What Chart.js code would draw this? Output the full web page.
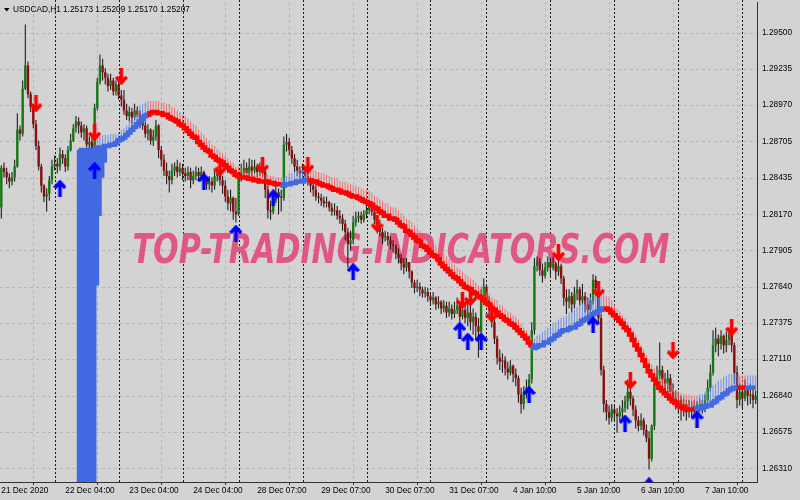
<!DOCTYPE html>
<html>
<head>
<meta charset="utf-8">
<title>USDCAD H1</title>
<script src="https://cdn.jsdelivr.net/npm/chart.js@4.4.1/dist/chart.umd.min.js"></script>
<style>
    html, body { margin: 0; padding: 0; background: #d3d3d3; }
    canvas { display: block; }
</style>
</head>
<body>
<canvas id="chart" width="800" height="500"></canvas>
<script>
// Time axis labels (every 24 bars) and day separators (bar index)
const timeLabels = ['21 Dec 2020', '22 Dec 04:00', '23 Dec 04:00', '24 Dec 04:00', '28 Dec 07:00', '29 Dec 07:00',
    '30 Dec 07:00', '31 Dec 07:00', '4 Jan 10:00', '5 Jan 10:00', '6 Jan 10:00', '7 Jan 10:00'];
const labelBars = [0, 24, 48, 72, 96, 120, 144, 168, 192, 216, 240, 264];
const daySeparators = [20, 44, 68, 89, 113, 137, 161, 182, 206, 230, 254, 278];
const priceTicks = [1.29500, 1.29235, 1.28970, 1.28705, 1.28435, 1.28170, 1.27905, 1.27640, 1.27375, 1.27110, 1.26840, 1.26575, 1.26310];

// OHLC
const opens = [
    1.2822, 1.2851, 1.2848, 1.2844, 1.2841, 1.2844, 1.2852, 1.2879, 1.2876, 1.2909, 1.2926, 1.2905,
    1.2896, 1.2883, 1.2867, 1.2852, 1.2838, 1.2830, 1.2832, 1.2842, 1.2852, 1.2854, 1.2852, 1.2861,
    1.2858, 1.2852, 1.2864, 1.2871, 1.2880, 1.2885, 1.2882, 1.2877, 1.2880, 1.2868, 1.2870, 1.2864,
    1.2895, 1.2914, 1.2926, 1.2921, 1.2917, 1.2911, 1.2915, 1.2907, 1.2912, 1.2904, 1.2901, 1.2893,
    1.2889, 1.2892, 1.2888, 1.2893, 1.2890, 1.2885, 1.2882, 1.2876, 1.2879, 1.2871, 1.2874, 1.2882,
    1.2864, 1.2857, 1.2849, 1.2845, 1.2842, 1.2849, 1.2852, 1.2848, 1.2851, 1.2847, 1.2845, 1.2848,
    1.2842, 1.2845, 1.2848, 1.2845, 1.2848, 1.2842, 1.2839, 1.2841, 1.2838, 1.2845, 1.2847, 1.2842,
    1.2838, 1.2830, 1.2825, 1.2829, 1.2819, 1.2817, 1.2844, 1.2848, 1.2851, 1.2847, 1.2852, 1.2849,
    1.2852, 1.2848, 1.2851, 1.2848, 1.2835, 1.2820, 1.2819, 1.2827, 1.2833, 1.2830, 1.2829, 1.2868,
    1.2870, 1.2864, 1.2858, 1.2852, 1.2849, 1.2847, 1.2849, 1.2845, 1.2842, 1.2838, 1.2835, 1.2830,
    1.2829, 1.2827, 1.2825, 1.2826, 1.2822, 1.2819, 1.2820, 1.2816, 1.2814, 1.2810, 1.2804, 1.2795,
    1.2798, 1.2811, 1.2814, 1.2816, 1.2813, 1.2817, 1.2820, 1.2823, 1.2819, 1.2813, 1.2808, 1.2804,
    1.2800, 1.2801, 1.2798, 1.2795, 1.2794, 1.2788, 1.2785, 1.2781, 1.2778, 1.2782, 1.2775, 1.2767,
    1.2763, 1.2764, 1.2762, 1.2759, 1.2760, 1.2757, 1.2754, 1.2756, 1.2751, 1.2753, 1.2748, 1.2750,
    1.2745, 1.2748, 1.2744, 1.2747, 1.2750, 1.2742, 1.2747, 1.2741, 1.2745, 1.2738, 1.2742, 1.2735,
    1.2731, 1.2757, 1.2764, 1.2754, 1.2747, 1.2738, 1.2726, 1.2712, 1.2709, 1.2710, 1.2704, 1.2701,
    1.2706, 1.2700, 1.2697, 1.2685, 1.2678, 1.2687, 1.2690, 1.2696, 1.2732, 1.2779, 1.2782, 1.2776,
    1.2772, 1.2778, 1.2782, 1.2778, 1.2781, 1.2775, 1.2779, 1.2770, 1.2756, 1.2753, 1.2757, 1.2751,
    1.2759, 1.2762, 1.2754, 1.2757, 1.2751, 1.2747, 1.2754, 1.2769, 1.2763, 1.2741, 1.2703, 1.2678,
    1.2672, 1.2668, 1.2674, 1.2671, 1.2669, 1.2672, 1.2675, 1.2680, 1.2687, 1.2682, 1.2674, 1.2666,
    1.2662, 1.2666, 1.2659, 1.2653, 1.2638, 1.2662, 1.2693, 1.2699, 1.2703, 1.2696, 1.2693, 1.2697,
    1.2687, 1.2682, 1.2678, 1.2681, 1.2674, 1.2678, 1.2672, 1.2675, 1.2674, 1.2677, 1.2674, 1.2678,
    1.2675, 1.2681, 1.2690, 1.2701, 1.2721, 1.2726, 1.2722, 1.2728, 1.2721, 1.2725, 1.2729, 1.2721,
    1.2701, 1.2681, 1.2687, 1.2682, 1.2688, 1.2684, 1.2685, 1.2681
];
const highs = [
    1.2853, 1.2855, 1.2851, 1.2847, 1.2848, 1.2857, 1.2891, 1.2882, 1.2915, 1.2956, 1.2929, 1.2907,
    1.2898, 1.2886, 1.2871, 1.2854, 1.2839, 1.2836, 1.2845, 1.2857, 1.2860, 1.2858, 1.2866, 1.2864,
    1.2861, 1.2867, 1.2876, 1.2883, 1.2889, 1.2888, 1.2885, 1.2883, 1.2882, 1.2874, 1.2873, 1.2898,
    1.2917, 1.2934, 1.2931, 1.2924, 1.2920, 1.2920, 1.2917, 1.2915, 1.2914, 1.2908, 1.2908, 1.2898,
    1.2896, 1.2895, 1.2898, 1.2896, 1.2893, 1.2890, 1.2885, 1.2883, 1.2880, 1.2879, 1.2886, 1.2883,
    1.2867, 1.2861, 1.2855, 1.2849, 1.2854, 1.2855, 1.2857, 1.2855, 1.2854, 1.2851, 1.2852, 1.2851,
    1.2849, 1.2852, 1.2851, 1.2852, 1.2849, 1.2845, 1.2845, 1.2844, 1.2849, 1.2852, 1.2849, 1.2845,
    1.2842, 1.2835, 1.2835, 1.2830, 1.2829, 1.2848, 1.2854, 1.2857, 1.2855, 1.2858, 1.2857, 1.2857,
    1.2854, 1.2855, 1.2855, 1.2851, 1.2838, 1.2827, 1.2832, 1.2838, 1.2836, 1.2835, 1.2874, 1.2876,
    1.2873, 1.2867, 1.2861, 1.2857, 1.2852, 1.2854, 1.2851, 1.2848, 1.2845, 1.2841, 1.2838, 1.2833,
    1.2832, 1.2830, 1.2830, 1.2827, 1.2825, 1.2825, 1.2823, 1.2820, 1.2817, 1.2813, 1.2807, 1.2805,
    1.2816, 1.2819, 1.2819, 1.2819, 1.2820, 1.2825, 1.2826, 1.2825, 1.2822, 1.2816, 1.2813, 1.2807,
    1.2805, 1.2804, 1.2801, 1.2798, 1.2795, 1.2792, 1.2788, 1.2785, 1.2785, 1.2782, 1.2776, 1.2769,
    1.2769, 1.2767, 1.2764, 1.2764, 1.2763, 1.2760, 1.2760, 1.2757, 1.2757, 1.2754, 1.2754, 1.2753,
    1.2753, 1.2751, 1.2753, 1.2756, 1.2753, 1.2754, 1.2750, 1.2754, 1.2750, 1.2748, 1.2745, 1.2741,
    1.2762, 1.2770, 1.2766, 1.2757, 1.2751, 1.2740, 1.2728, 1.2718, 1.2715, 1.2713, 1.2709, 1.2710,
    1.2707, 1.2704, 1.2699, 1.2690, 1.2691, 1.2696, 1.2700, 1.2738, 1.2785, 1.2786, 1.2785, 1.2781,
    1.2782, 1.2786, 1.2785, 1.2786, 1.2782, 1.2785, 1.2781, 1.2772, 1.2762, 1.2762, 1.2760, 1.2764,
    1.2769, 1.2764, 1.2766, 1.2760, 1.2756, 1.2759, 1.2773, 1.2772, 1.2766, 1.2744, 1.2706, 1.2681,
    1.2677, 1.2678, 1.2677, 1.2675, 1.2677, 1.2681, 1.2684, 1.2696, 1.2691, 1.2684, 1.2677, 1.2669,
    1.2671, 1.2668, 1.2663, 1.2658, 1.2663, 1.2696, 1.2706, 1.2723, 1.2706, 1.2701, 1.2703, 1.2700,
    1.2693, 1.2688, 1.2687, 1.2684, 1.2682, 1.2681, 1.2681, 1.2680, 1.2681, 1.2680, 1.2682, 1.2681,
    1.2685, 1.2696, 1.2707, 1.2732, 1.2734, 1.2729, 1.2732, 1.2729, 1.2731, 1.2734, 1.2732, 1.2723,
    1.2706, 1.2693, 1.2690, 1.2696, 1.2691, 1.2693, 1.2690, 1.2688
];
const lows = [
    1.2814, 1.2844, 1.2839, 1.2836, 1.2838, 1.2841, 1.2851, 1.2871, 1.2874, 1.2908, 1.2902, 1.2892,
    1.2880, 1.2864, 1.2849, 1.2833, 1.2826, 1.2819, 1.2827, 1.2839, 1.2849, 1.2847, 1.2849, 1.2854,
    1.2848, 1.2849, 1.2863, 1.2870, 1.2877, 1.2876, 1.2873, 1.2871, 1.2866, 1.2863, 1.2860, 1.2863,
    1.2893, 1.2912, 1.2915, 1.2912, 1.2907, 1.2908, 1.2904, 1.2904, 1.2901, 1.2896, 1.2890, 1.2886,
    1.2885, 1.2883, 1.2886, 1.2888, 1.2880, 1.2879, 1.2873, 1.2871, 1.2868, 1.2867, 1.2871, 1.2858,
    1.2852, 1.2845, 1.2839, 1.2833, 1.2839, 1.2845, 1.2844, 1.2845, 1.2842, 1.2841, 1.2842, 1.2836,
    1.2839, 1.2842, 1.2841, 1.2842, 1.2839, 1.2835, 1.2835, 1.2833, 1.2835, 1.2841, 1.2838, 1.2832,
    1.2826, 1.2820, 1.2819, 1.2813, 1.2811, 1.2816, 1.2841, 1.2845, 1.2842, 1.2844, 1.2845, 1.2847,
    1.2844, 1.2845, 1.2844, 1.2829, 1.2814, 1.2813, 1.2817, 1.2825, 1.2817, 1.2819, 1.2827, 1.2863,
    1.2860, 1.2854, 1.2848, 1.2845, 1.2842, 1.2844, 1.2841, 1.2838, 1.2833, 1.2830, 1.2827, 1.2825,
    1.2823, 1.2822, 1.2822, 1.2819, 1.2816, 1.2816, 1.2813, 1.2810, 1.2805, 1.2798, 1.2778, 1.2791,
    1.2795, 1.2808, 1.2811, 1.2810, 1.2811, 1.2814, 1.2817, 1.2816, 1.2810, 1.2803, 1.2801, 1.2795,
    1.2797, 1.2794, 1.2791, 1.2789, 1.2784, 1.2781, 1.2776, 1.2773, 1.2775, 1.2770, 1.2763, 1.2759,
    1.2760, 1.2757, 1.2756, 1.2756, 1.2753, 1.2750, 1.2751, 1.2747, 1.2748, 1.2744, 1.2745, 1.2741,
    1.2742, 1.2740, 1.2741, 1.2744, 1.2738, 1.2740, 1.2737, 1.2735, 1.2732, 1.2729, 1.2725, 1.2712,
    1.2729, 1.2754, 1.2750, 1.2742, 1.2734, 1.2722, 1.2707, 1.2703, 1.2701, 1.2699, 1.2696, 1.2699,
    1.2694, 1.2691, 1.2679, 1.2671, 1.2674, 1.2682, 1.2687, 1.2693, 1.2729, 1.2775, 1.2772, 1.2767,
    1.2770, 1.2775, 1.2772, 1.2776, 1.2769, 1.2772, 1.2766, 1.2750, 1.2744, 1.2748, 1.2745, 1.2748,
    1.2754, 1.2750, 1.2751, 1.2745, 1.2741, 1.2744, 1.2751, 1.2757, 1.2737, 1.2699, 1.2672, 1.2666,
    1.2663, 1.2665, 1.2666, 1.2657, 1.2666, 1.2668, 1.2672, 1.2674, 1.2677, 1.2669, 1.2660, 1.2658,
    1.2659, 1.2655, 1.2650, 1.2630, 1.2636, 1.2659, 1.2690, 1.2696, 1.2690, 1.2687, 1.2688, 1.2682,
    1.2678, 1.2674, 1.2671, 1.2666, 1.2669, 1.2666, 1.2668, 1.2668, 1.2671, 1.2669, 1.2672, 1.2671,
    1.2672, 1.2678, 1.2687, 1.2699, 1.2716, 1.2713, 1.2718, 1.2715, 1.2716, 1.2721, 1.2716, 1.2693,
    1.2675, 1.2677, 1.2675, 1.2680, 1.2677, 1.2678, 1.2675, 1.2678
];
const closes = [
    1.2851, 1.2848, 1.2844, 1.2841, 1.2844, 1.2852, 1.2879, 1.2876, 1.2909, 1.2926, 1.2905, 1.2896,
    1.2883, 1.2867, 1.2852, 1.2838, 1.2830, 1.2832, 1.2842, 1.2852, 1.2854, 1.2852, 1.2861, 1.2858,
    1.2852, 1.2864, 1.2871, 1.2880, 1.2885, 1.2882, 1.2877, 1.2880, 1.2868, 1.2870, 1.2864, 1.2895,
    1.2914, 1.2926, 1.2921, 1.2917, 1.2911, 1.2915, 1.2907, 1.2912, 1.2904, 1.2901, 1.2893, 1.2889,
    1.2892, 1.2888, 1.2893, 1.2890, 1.2885, 1.2882, 1.2876, 1.2879, 1.2871, 1.2874, 1.2882, 1.2864,
    1.2857, 1.2849, 1.2845, 1.2842, 1.2849, 1.2852, 1.2848, 1.2851, 1.2847, 1.2845, 1.2848, 1.2842,
    1.2845, 1.2848, 1.2845, 1.2848, 1.2842, 1.2839, 1.2841, 1.2838, 1.2845, 1.2847, 1.2842, 1.2838,
    1.2830, 1.2825, 1.2829, 1.2819, 1.2817, 1.2844, 1.2848, 1.2851, 1.2847, 1.2852, 1.2849, 1.2852,
    1.2848, 1.2851, 1.2848, 1.2835, 1.2820, 1.2819, 1.2827, 1.2833, 1.2830, 1.2829, 1.2868, 1.2870,
    1.2864, 1.2858, 1.2852, 1.2849, 1.2847, 1.2849, 1.2845, 1.2842, 1.2838, 1.2835, 1.2830, 1.2829,
    1.2827, 1.2825, 1.2826, 1.2822, 1.2819, 1.2820, 1.2816, 1.2814, 1.2810, 1.2804, 1.2795, 1.2798,
    1.2811, 1.2814, 1.2816, 1.2813, 1.2817, 1.2820, 1.2823, 1.2819, 1.2813, 1.2808, 1.2804, 1.2800,
    1.2801, 1.2798, 1.2795, 1.2794, 1.2788, 1.2785, 1.2781, 1.2778, 1.2782, 1.2775, 1.2767, 1.2763,
    1.2764, 1.2762, 1.2759, 1.2760, 1.2757, 1.2754, 1.2756, 1.2751, 1.2753, 1.2748, 1.2750, 1.2745,
    1.2748, 1.2744, 1.2747, 1.2750, 1.2742, 1.2747, 1.2741, 1.2745, 1.2738, 1.2742, 1.2735, 1.2731,
    1.2757, 1.2764, 1.2754, 1.2747, 1.2738, 1.2726, 1.2712, 1.2709, 1.2710, 1.2704, 1.2701, 1.2706,
    1.2700, 1.2697, 1.2685, 1.2678, 1.2687, 1.2690, 1.2696, 1.2732, 1.2779, 1.2782, 1.2776, 1.2772,
    1.2778, 1.2782, 1.2778, 1.2781, 1.2775, 1.2779, 1.2770, 1.2756, 1.2753, 1.2757, 1.2751, 1.2759,
    1.2762, 1.2754, 1.2757, 1.2751, 1.2747, 1.2754, 1.2769, 1.2763, 1.2741, 1.2703, 1.2678, 1.2672,
    1.2668, 1.2674, 1.2671, 1.2669, 1.2672, 1.2675, 1.2680, 1.2687, 1.2682, 1.2674, 1.2666, 1.2662,
    1.2666, 1.2659, 1.2653, 1.2638, 1.2662, 1.2693, 1.2699, 1.2703, 1.2696, 1.2693, 1.2697, 1.2687,
    1.2682, 1.2678, 1.2681, 1.2674, 1.2678, 1.2672, 1.2675, 1.2674, 1.2677, 1.2674, 1.2678, 1.2675,
    1.2681, 1.2690, 1.2701, 1.2721, 1.2726, 1.2722, 1.2728, 1.2721, 1.2725, 1.2729, 1.2721, 1.2701,
    1.2681, 1.2687, 1.2682, 1.2688, 1.2684, 1.2685, 1.2681, 1.2684
];

// Trend band indicator, starts at bar 29
const bandStart = 29;
const bandLine = [
    1.2864, 1.2864, 1.2864, 1.2864, 1.2864, 1.2864, 1.2864, 1.2866, 1.2866, 1.2866, 1.2867, 1.2867,
    1.2868, 1.2868, 1.2869, 1.2871, 1.2872, 1.2873, 1.2875, 1.2877, 1.2879, 1.2881, 1.2883, 1.2885,
    1.2887, 1.2889, 1.2890, 1.2891, 1.2892, 1.2892, 1.2891, 1.2891, 1.2890, 1.2890, 1.2888, 1.2887,
    1.2886, 1.2885, 1.2883, 1.2882, 1.2880, 1.2878, 1.2876, 1.2874, 1.2873, 1.2870, 1.2868, 1.2866,
    1.2864, 1.2863, 1.2860, 1.2859, 1.2857, 1.2856, 1.2855, 1.2853, 1.2851, 1.2849, 1.2848, 1.2846,
    1.2845, 1.2844, 1.2844, 1.2844, 1.2843, 1.2843, 1.2842, 1.2842, 1.2841, 1.2841, 1.2841, 1.2841,
    1.2840, 1.2840, 1.2839, 1.2839, 1.2839, 1.2838, 1.2839, 1.2839, 1.2840, 1.2840, 1.2841, 1.2841,
    1.2841, 1.2842, 1.2842, 1.2842, 1.2841, 1.2841, 1.2840, 1.2839, 1.2838, 1.2838, 1.2837, 1.2836,
    1.2835, 1.2835, 1.2834, 1.2833, 1.2833, 1.2832, 1.2831, 1.2830, 1.2830, 1.2829, 1.2828, 1.2827,
    1.2826, 1.2825, 1.2824, 1.2822, 1.2821, 1.2819, 1.2818, 1.2816, 1.2816, 1.2814, 1.2814, 1.2813,
    1.2811, 1.2809, 1.2808, 1.2805, 1.2804, 1.2802, 1.2800, 1.2798, 1.2797, 1.2794, 1.2793, 1.2791,
    1.2789, 1.2787, 1.2786, 1.2784, 1.2781, 1.2779, 1.2777, 1.2775, 1.2773, 1.2771, 1.2770, 1.2768,
    1.2766, 1.2764, 1.2763, 1.2762, 1.2760, 1.2759, 1.2757, 1.2756, 1.2754, 1.2752, 1.2751, 1.2748,
    1.2747, 1.2745, 1.2743, 1.2742, 1.2740, 1.2739, 1.2737, 1.2736, 1.2734, 1.2732, 1.2730, 1.2728,
    1.2726, 1.2723, 1.2721, 1.2719, 1.2720, 1.2721, 1.2721, 1.2723, 1.2723, 1.2725, 1.2726, 1.2728,
    1.2729, 1.2731, 1.2732, 1.2732, 1.2733, 1.2734, 1.2734, 1.2736, 1.2737, 1.2739, 1.2740, 1.2741,
    1.2742, 1.2744, 1.2745, 1.2746, 1.2747, 1.2748, 1.2748, 1.2747, 1.2745, 1.2743, 1.2741, 1.2739,
    1.2737, 1.2734, 1.2732, 1.2729, 1.2725, 1.2721, 1.2718, 1.2714, 1.2710, 1.2706, 1.2702, 1.2699,
    1.2696, 1.2693, 1.2690, 1.2688, 1.2686, 1.2684, 1.2682, 1.2680, 1.2679, 1.2677, 1.2676, 1.2675,
    1.2674, 1.2674, 1.2674, 1.2674, 1.2674, 1.2675, 1.2675, 1.2676, 1.2677, 1.2677, 1.2679, 1.2680,
    1.2682, 1.2683, 1.2685, 1.2686, 1.2688, 1.2689, 1.2690, 1.2690, 1.2690, 1.2690, 1.2690, 1.2690,
    1.2690, 1.2690, 1.2690
];
const bandEdge = [
    null, null, null, null, null, null, null, 1.2874, 1.2874, 1.2875, 1.2875, 1.2875,
    1.2876, 1.2876, 1.2876, 1.2877, 1.2879, 1.2880, 1.2882, 1.2885, 1.2887, 1.2890, 1.2893, 1.2896,
    1.2898, 1.2899, 1.2900, 1.2900, 1.2900, 1.2900, 1.2900, 1.2899, 1.2899, 1.2898, 1.2898, 1.2896,
    1.2895, 1.2893, 1.2892, 1.2890, 1.2889, 1.2887, 1.2885, 1.2883, 1.2882, 1.2879, 1.2877, 1.2875,
    1.2873, 1.2871, 1.2868, 1.2867, 1.2865, 1.2863, 1.2862, 1.2860, 1.2858, 1.2856, 1.2855, 1.2852,
    1.2852, 1.2851, 1.2849, 1.2849, 1.2849, 1.2848, 1.2847, 1.2847, 1.2847, 1.2847, 1.2846, 1.2846,
    1.2845, 1.2845, 1.2844, 1.2844, 1.2844, 1.2844, 1.2845, 1.2847, 1.2847, 1.2848, 1.2849, 1.2849,
    1.2849, 1.2849, 1.2849, 1.2849, 1.2849, 1.2849, 1.2848, 1.2847, 1.2847, 1.2846, 1.2845, 1.2844,
    1.2844, 1.2843, 1.2842, 1.2841, 1.2841, 1.2840, 1.2839, 1.2838, 1.2838, 1.2837, 1.2836, 1.2835,
    1.2835, 1.2834, 1.2833, 1.2831, 1.2830, 1.2828, 1.2827, 1.2825, 1.2825, 1.2823, 1.2822, 1.2822,
    1.2820, 1.2818, 1.2816, 1.2814, 1.2813, 1.2811, 1.2809, 1.2807, 1.2805, 1.2803, 1.2802, 1.2800,
    1.2798, 1.2796, 1.2794, 1.2792, 1.2790, 1.2788, 1.2786, 1.2784, 1.2782, 1.2780, 1.2778, 1.2777,
    1.2775, 1.2773, 1.2772, 1.2770, 1.2769, 1.2767, 1.2765, 1.2764, 1.2762, 1.2760, 1.2759, 1.2756,
    1.2755, 1.2754, 1.2751, 1.2750, 1.2748, 1.2746, 1.2745, 1.2743, 1.2742, 1.2740, 1.2737, 1.2734,
    1.2732, 1.2729, 1.2727, 1.2726, 1.2728, 1.2729, 1.2731, 1.2732, 1.2734, 1.2735, 1.2737, 1.2738,
    1.2740, 1.2741, 1.2742, 1.2743, 1.2745, 1.2745, 1.2747, 1.2749, 1.2751, 1.2752, 1.2754, 1.2755,
    1.2756, 1.2758, 1.2759, 1.2759, 1.2760, 1.2760, 1.2757, 1.2756, 1.2754, 1.2751, 1.2748, 1.2746,
    1.2743, 1.2741, 1.2738, 1.2735, 1.2732, 1.2729, 1.2725, 1.2721, 1.2718, 1.2714, 1.2710, 1.2707,
    1.2704, 1.2701, 1.2699, 1.2697, 1.2696, 1.2694, 1.2692, 1.2690, 1.2688, 1.2687, 1.2686, 1.2685,
    1.2685, 1.2685, 1.2684, 1.2684, 1.2684, 1.2685, 1.2685, 1.2687, 1.2688, 1.2690, 1.2692, 1.2693,
    1.2695, 1.2696, 1.2698, 1.2699, 1.2700, 1.2700, 1.2700, 1.2700, 1.2699, 1.2699, 1.2699, 1.2699,
    1.2699, 1.2699, 1.2699
];
// first bars of the band reach far down (warm-up values)
const seedLow = [1.2600, 1.2600, 1.2600, 1.2600, 1.2600, 1.2600, 1.2600, 1.2765, 1.2816, 1.2844, 1.2855];
const trendStarts = [29, 56, 106, 116, 200, 227, 261, 277, 280];
const trendDirs = [1, -1, 1, -1, 1, -1, 1, -1, 1];

// Signal arrows
const sellBars = [13, 35, 45, 82, 98, 115, 141, 173, 176, 184, 209, 224, 236, 252, 274];
const sellLevels = [1.2898, 1.2877, 1.2918, 1.2851, 1.2853, 1.2853, 1.2810, 1.2754, 1.2756, 1.2744, 1.2789, 1.2762, 1.2695, 1.2717, 1.2734];
const buyBars = [22, 35, 76, 88, 102, 132, 172, 175, 180, 198, 222, 234, 243, 261];
const buyLevels = [1.2836, 1.2849, 1.2841, 1.2803, 1.2829, 1.2775, 1.2732, 1.2724, 1.2724, 1.2685, 1.2736, 1.2664, 1.2618, 1.2667];

const BG = '#d3d3d3';
const BULL = '#127a12';
const BEAR = '#8c0d0d';
const WICK = '#1e1e1e';
const UP = '#4169e1';
const DOWN = '#ff0000';
const UP_HATCH = 'rgba(90,130,240,0.85)';
const DOWN_HATCH = 'rgba(255,80,80,0.8)';
const AXIS_FONT = { family: '"Liberation Sans", Arial, sans-serif', size: 8.3 };

function trendAt(i) {
    let d = 0;
    for (let k = 0; k < trendStarts.length; k++) {
        if (i >= trendStarts[k]) d = trendDirs[k];
    }
    return d;
}

// Arrow glyphs
function makeArrow(color, up) {
    const c = document.createElement('canvas');
    c.width = 13;
    c.height = 17;
    const g = c.getContext('2d');
    if (!up) { g.translate(0, 17); g.scale(1, -1); }
    g.strokeStyle = color;
    g.lineWidth = 3.6;
    g.lineJoin = 'miter';
    g.beginPath();
    g.moveTo(6.5, 2);
    g.lineTo(6.5, 17);
    g.stroke();
    g.beginPath();
    g.moveTo(1.2, 8);
    g.lineTo(6.5, 2.2);
    g.lineTo(11.8, 8);
    g.stroke();
    return c;
}

const wickData = highs.map((h, i) => ({ x: i, y: [lows[i], h] }));
const bodyData = opens.map((o, i) => ({ x: i, y: [o, closes[i]] }));
const lineData = bandLine.map((v, k) => ({ x: bandStart + k, y: v }));
const hatchData = [];
bandEdge.forEach((v, k) => {
    if (v !== null) hatchData.push({ x: bandStart + k, y: [bandLine[k], v] });
});
const seedData = seedLow.map((v, k) => ({ x: bandStart + k, y: [v, bandLine[k]] }));

// Background, grid, separators, watermark, header text
const backdrop = {
    id: 'backdrop',
    beforeDraw(chart) {
        const { ctx, width, height } = chart;
        ctx.save();
        ctx.fillStyle = BG;
        ctx.fillRect(0, 0, width, height);
        ctx.restore();
    },
    beforeDatasetsDraw(chart) {
        const { ctx, chartArea, scales: { x, y } } = chart;
        ctx.save();
        ctx.lineWidth = 1;
        // horizontal grid
        ctx.strokeStyle = '#b7b7b7';
        ctx.setLineDash([3, 3]);
        priceTicks.forEach(v => {
            const py = Math.round(y.getPixelForValue(v)) + 0.5;
            ctx.beginPath();
            ctx.moveTo(chartArea.left, py);
            ctx.lineTo(chartArea.right, py);
            ctx.stroke();
        });
        // vertical grid halfway between time labels
        for (let k = 0; k < labelBars.length; k++) {
            const px = Math.round(x.getPixelForValue(labelBars[k] + 12)) + 0.5;
            if (px > chartArea.right) continue;
            ctx.beginPath();
            ctx.moveTo(px, chartArea.top);
            ctx.lineTo(px, chartArea.bottom);
            ctx.stroke();
        }
        // day separators
        ctx.strokeStyle = '#1a1a1a';
        ctx.setLineDash([2, 2]);
        daySeparators.forEach(b => {
            const px = Math.round(x.getPixelForValue(b)) + 0.5;
            ctx.beginPath();
            ctx.moveTo(px, 0);
            ctx.lineTo(px, chartArea.bottom);
            ctx.stroke();
        });
        ctx.setLineDash([]);

        // watermark
        const text = 'TOP-TRADING-INDICATORS.COM';
        ctx.font = 'italic bold 30px "DejaVu Sans"';
        const w = ctx.measureText(text).width;
        ctx.translate(401, 263);
        ctx.scale(537 / w, 1.37);
        ctx.fillStyle = 'rgba(226,80,126,0.95)';
        ctx.textAlign = 'center';
        ctx.textBaseline = 'alphabetic';
        ctx.fillText(text, 0, 0);
        ctx.restore();
    },
    afterDraw(chart) {
        const { ctx } = chart;
        ctx.save();
        ctx.fillStyle = '#000';
        ctx.beginPath();
        ctx.moveTo(4, 8);
        ctx.lineTo(9.5, 8);
        ctx.lineTo(6.75, 11.5);
        ctx.closePath();
        ctx.fill();
        ctx.font = '8.3px "Liberation Sans", Arial, sans-serif';
        ctx.textBaseline = 'middle';
        ctx.fillText('USDCAD,H1', 13, 10);
        ctx.fillText('1.25173 1.25209 1.25170 1.25207', 63, 10);
        ctx.restore();
    }
};

const ctx = document.getElementById('chart').getContext('2d');
new Chart(ctx, {
    type: 'bar',
    data: {
        datasets: [
            {
                type: 'scatter', data: sellBars.map((b, k) => ({ x: b, y: sellLevels[k] })),
                pointStyle: makeArrow('#ff0000', false), pointRadius: 9, clip: 0, order: 0
            },
            {
                type: 'scatter', data: buyBars.map((b, k) => ({ x: b, y: buyLevels[k] })),
                pointStyle: makeArrow('#0000ff', true), pointRadius: 9, clip: 0, order: 0
            },
            {
                type: 'line', data: lineData, borderWidth: 4.5, pointRadius: 0, stepped: 'middle',
                borderColor: UP, borderCapStyle: 'butt', borderJoinStyle: 'miter',
                segment: { borderColor: c => trendAt(c.p1.parsed.x) > 0 ? UP : DOWN },
                order: 1
            },
            {
                data: seedData, backgroundColor: UP, barThickness: 3, grouped: false, order: 2
            },
            {
                data: hatchData, barThickness: 1, grouped: false, inflateAmount: 0, order: 3,
                backgroundColor: c => trendAt(c.raw.x) > 0 ? UP_HATCH : DOWN_HATCH
            },
            {
                data: bodyData, barThickness: 2.4, grouped: false, inflateAmount: 0, order: 4,
                backgroundColor: c => c.raw.y[1] >= c.raw.y[0] ? BULL : BEAR
            },
            {
                data: wickData, barThickness: 1.1, grouped: false, inflateAmount: 0, order: 5,
                backgroundColor: WICK
            }
        ]
    },
    options: {
        responsive: false,
        animation: false,
        events: [],
        layout: { autoPadding: false, padding: { top: 2, left: 0, right: 0, bottom: 0 } },
        plugins: { legend: { display: false }, tooltip: { enabled: false } },
        scales: {
            x: {
                type: 'linear', min: -0.5, max: closes.length - 0.5, offset: false,
                afterBuildTicks: s => { s.ticks = labelBars.map(v => ({ value: v })); },
                afterFit: s => { s.height = 18; s.paddingLeft = 0; s.paddingRight = 0; },
                ticks: {
                    autoSkip: false, maxRotation: 0, minRotation: 0, align: 'start', padding: 1,
                    color: '#000', font: AXIS_FONT,
                    callback: v => timeLabels[labelBars.indexOf(v)]
                },
                grid: { drawOnChartArea: false, drawTicks: true, tickLength: 3, color: '#333' },
                border: { display: true, color: '#333', width: 1 }
            },
            y: {
                position: 'right', min: 1.26209, max: 1.29725, beginAtZero: false,
                afterBuildTicks: s => { s.ticks = priceTicks.map(v => ({ value: v })); },
                afterFit: s => { s.width = 43; s.paddingTop = 0; s.paddingBottom = 0; },
                ticks: { padding: 5, color: '#000', font: AXIS_FONT, callback: v => v.toFixed(5) },
                grid: { display: false, drawTicks: false },
                border: { display: true, color: '#333', width: 1 }
            }
        }
    },
    plugins: [backdrop]
});
</script>
</body>
</html>
